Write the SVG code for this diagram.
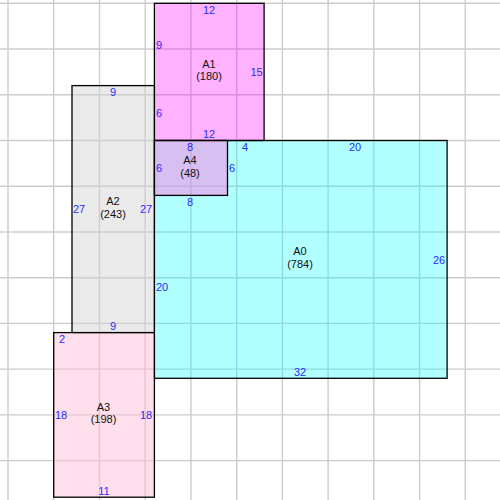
<svg xmlns="http://www.w3.org/2000/svg" width="500" height="500" viewBox="0 0 500 500">
<style>
.grid line{stroke:#cccccc;stroke-width:1.4}
.box{stroke:#000;stroke-width:1.3}
.nm{font-family:"Liberation Sans",Arial,sans-serif;font-size:11px;fill:#111;text-anchor:middle}
.ed{font-family:"Liberation Sans",Arial,sans-serif;font-size:11px;fill:#2a2aff;text-anchor:middle}
</style>
<rect width="500" height="500" fill="#fff"/>
<g class="grid">
<line x1="8" y1="0" x2="8" y2="500"/><line x1="53.7" y1="0" x2="53.7" y2="500"/><line x1="99.5" y1="0" x2="99.5" y2="500"/><line x1="145.2" y1="0" x2="145.2" y2="500"/><line x1="190.9" y1="0" x2="190.9" y2="500"/><line x1="236.7" y1="0" x2="236.7" y2="500"/><line x1="282.4" y1="0" x2="282.4" y2="500"/><line x1="328.1" y1="0" x2="328.1" y2="500"/><line x1="373.8" y1="0" x2="373.8" y2="500"/><line x1="419.6" y1="0" x2="419.6" y2="500"/><line x1="465.3" y1="0" x2="465.3" y2="500"/>
<line x1="0" y1="3.3" x2="500" y2="3.3"/><line x1="0" y1="49" x2="500" y2="49"/><line x1="0" y1="94.8" x2="500" y2="94.8"/><line x1="0" y1="140.5" x2="500" y2="140.5"/><line x1="0" y1="186.2" x2="500" y2="186.2"/><line x1="0" y1="232" x2="500" y2="232"/><line x1="0" y1="277.7" x2="500" y2="277.7"/><line x1="0" y1="323.4" x2="500" y2="323.4"/><line x1="0" y1="369.1" x2="500" y2="369.1"/><line x1="0" y1="414.9" x2="500" y2="414.9"/><line x1="0" y1="460.6" x2="500" y2="460.6"/>
</g>
<g id="A0">
<rect class="box" x="154.4" y="140.5" width="292.7" height="237.8" fill="#00ffff" fill-opacity="0.3"/>
<text class="nm" x="300" y="255">A0</text><text class="nm" x="300" y="268">(784)</text>
<text class="ed" x="190" y="206">8</text>
<text class="ed" x="245" y="151">4</text>
<text class="ed" x="355" y="151">20</text>
<text class="ed" x="439" y="264">26</text>
<text class="ed" x="300" y="376">32</text>
<text class="ed" x="162" y="291">20</text>
</g>
<g id="A1">
<rect class="box" x="154.4" y="3.3" width="109.7" height="137.2" fill="#ff00ff" fill-opacity="0.3"/>
<text class="nm" x="209" y="68">A1</text><text class="nm" x="209" y="80">(180)</text>
<text class="ed" x="209" y="14">12</text>
<text class="ed" x="159" y="49">9</text>
<text class="ed" x="159" y="117">6</text>
<text class="ed" x="256.5" y="76">15</text>
<text class="ed" x="209" y="138">12</text>
</g>
<g id="A2">
<rect class="box" x="72" y="85.6" width="82.4" height="247" fill="#d0d0d0" fill-opacity="0.45"/>
<text class="nm" x="113" y="205">A2</text><text class="nm" x="113" y="218">(243)</text>
<text class="ed" x="113" y="96">9</text>
<text class="ed" x="79" y="213">27</text>
<text class="ed" x="146" y="213">27</text>
<text class="ed" x="113" y="330">9</text>
</g>
<g id="A3">
<rect class="box" x="53.7" y="332.6" width="100.7" height="164.6" fill="#ffc0d8" fill-opacity="0.5"/>
<text class="nm" x="103.5" y="411">A3</text><text class="nm" x="103.5" y="423">(198)</text>
<text class="ed" x="62" y="343">2</text>
<text class="ed" x="61" y="419">18</text>
<text class="ed" x="146" y="419">18</text>
<text class="ed" x="104" y="495">11</text>
</g>
<g id="A4">
<rect class="box" x="154.4" y="140.5" width="73.1" height="54.9" fill="#fd80e5" fill-opacity="0.5"/>
<text class="nm" x="190" y="164">A4</text><text class="nm" x="190" y="177">(48)</text>
<text class="ed" x="190" y="151">8</text>
<text class="ed" x="159" y="172">6</text>
<text class="ed" x="232" y="172">6</text>
</g>
<g id="connectors"/>
</svg>
